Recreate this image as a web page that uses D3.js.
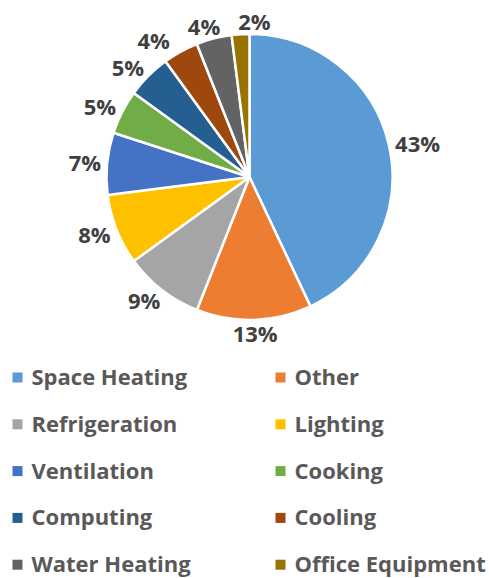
<!DOCTYPE html>
<html><head><meta charset="utf-8">
<script src="https://cdn.jsdelivr.net/npm/d3@7"></script>
<style>html,body{margin:0;padding:0;background:#fff;overflow:hidden}</style>
</head><body>
<svg id="chart" width="489" height="578"></svg>
<script>
const categories = ["Space Heating","Other","Refrigeration","Lighting","Ventilation","Cooking","Computing","Cooling","Water Heating","Office Equipment"];
const values = [43,13,9,8,7,5,5,4,4,2];
const colors = ["#5B9BD5","#ED7D31","#A5A5A5","#FFC000","#4472C4","#70AD47","#255E91","#9E480E","#636363","#997300"];

const svg = d3.select("#chart");
const cx = 249.5, cy = 177, r = 143;
const font = "'Open Sans', sans-serif";

const pie = d3.pie().sort(null).value(d => d)(values);
const arc = d3.arc().innerRadius(0).outerRadius(r);
const color = d3.scaleOrdinal().domain(categories).range(colors);

const g = svg.append("g").attr("transform", `translate(${cx},${cy})`);
g.selectAll("path").data(pie).join("path")
  .attr("d", arc)
  .attr("fill", (d,i) => color(categories[i]))
  .attr("stroke", "#fff")
  .attr("stroke-width", 2.5)
  .attr("stroke-linejoin", "round");

// labels outside end (Excel-like placement)
const labels = g.selectAll("text.lbl").data(pie).join("text")
  .attr("class","lbl")
  .attr("font-family", font).attr("font-weight", 700).attr("font-size", "22px")
  .attr("fill", "#404040")
  .attr("text-anchor","middle").attr("dominant-baseline","central")
  .text(d => Math.round(d.data) + "%");
const pos = [];
labels.each(function(d){
  const a = (d.startAngle + d.endAngle)/2;
  const w = this.getComputedTextLength();
  const s = Math.sin(a), c = -Math.cos(a);
  const sx = Math.max(-1, Math.min(1, s*1.3));
  pos.push({x: r*s + sx*(w/2 + 6), y: r*c + c*13, w});
});
// simple overlap avoidance between neighbouring labels (box padding)
const hGap = 18, vH = 15;
for (let it = 0; it < 20; it++) {
  for (let i = 0; i < pos.length; i++) {
    const p = pos[i], q = pos[(i+1) % pos.length];
    if (Math.abs(p.y - q.y) < vH) {
      const need = (p.w + q.w)/2 + hGap;
      const dx = q.x - p.x;
      if (Math.abs(dx) < need) {
        const sign = dx >= 0 ? 1 : -1;
        const push = (need - Math.abs(dx))/2;
        p.x -= sign*push; q.x += sign*push;
      }
    }
  }
}
labels.attr("x", (d,i) => pos[i].x).attr("y", (d,i) => pos[i].y);

// legend
const colX = [12.5, 275.5], baseY0 = 385, rowH = 46.8;
const lg = svg.append("g");
categories.forEach((name,i) => {
  const col = i % 2, row = Math.floor(i/2);
  const x = colX[col], yb = baseY0 + row*rowH;
  lg.append("rect").attr("x", x).attr("y", yb-12.5).attr("width",10).attr("height",10).attr("fill", color(name));
  lg.append("text").attr("x", x+19).attr("y", yb)
    .attr("font-family", font).attr("font-weight", 700).attr("font-size","22px")
    .attr("fill","#595959").text(name);
});
</script>
</body></html>
